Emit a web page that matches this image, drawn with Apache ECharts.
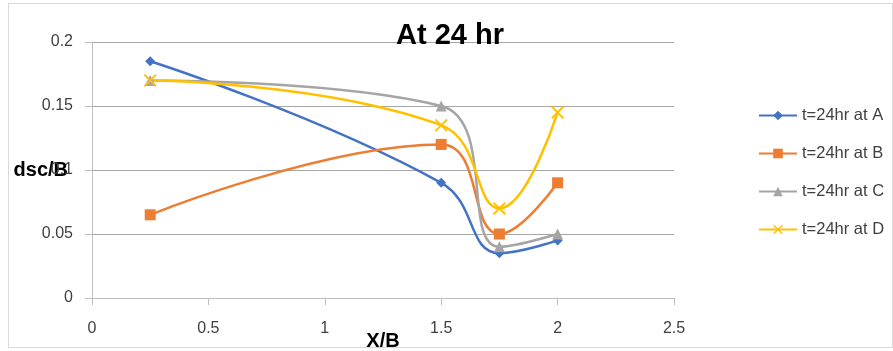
<!DOCTYPE html>
<html>
<head>
<meta charset="utf-8">
<script src="https://cdn.jsdelivr.net/npm/echarts@6/dist/echarts.min.js"></script>
<style>
  html, body { margin: 0; padding: 0; background: #fff; }
  #chart { width: 893px; height: 351px; }
</style>
</head>
<body>
<div id="chart"></div>
<script>
// X/B positions and dsc/B values
const xPos = [0.25, 1.5, 1.75, 2];
const seriesA = [0.185, 0.09, 0.035, 0.045];
const seriesB = [0.065, 0.12, 0.05, 0.09];
const seriesC = [0.17, 0.15, 0.04, 0.05];
const seriesD = [0.17, 0.135, 0.07, 0.145];
const names = ['t=24hr at A', 't=24hr at B', 't=24hr at C', 't=24hr at D'];
const colors = ['#4472c4', '#ed7d31', '#a5a5a5', '#ffc000'];

const crossPath = 'path://M0,1L1,0L5,4L9,0L10,1L6,5L10,9L9,10L5,6L1,10L0,9L4,5Z';
const symbols = ['diamond', 'rect', 'triangle', crossPath];
const sizes = [10, 11, 11, 13];

const font = "'Liberation Sans', sans-serif";

const chart = echarts.init(document.getElementById('chart'));

const series = [seriesA, seriesB, seriesC, seriesD].map((vals, i) => ({
  name: names[i],
  type: 'line',
  smooth: 0.45,
  data: xPos.map((x, k) => [x, vals[k]]),
  symbol: symbols[i],
  symbolSize: sizes[i],
  lineStyle: { width: 2.5, color: colors[i] },
  itemStyle: { color: colors[i] },
}));

chart.setOption({
  animation: false,
  title: {
    text: 'At 24 hr',
    left: 445,
    top: 16,
    textAlign: 'center',
    textStyle: { fontFamily: font, fontSize: 29, fontWeight: 'bold', color: '#000' },
  },
  legend: {
    orient: 'vertical',
    left: 753,
    top: 102,
    itemGap: 21,
    itemWidth: 38,
    itemHeight: 12,
    data: names,
    textStyle: { fontFamily: font, fontSize: 16.5, color: '#404040' },
  },
  grid: { left: 92, right: 219, top: 42, bottom: 53, outerBoundsMode: 'none' },
  xAxis: {
    type: 'value',
    min: 0, max: 2.5, interval: 0.5,
    name: 'X/B',
    nameLocation: 'middle',
    nameGap: 33,
    nameMoveOverlap: false,
    nameTextStyle: { fontFamily: font, fontSize: 20, fontWeight: 'bold', color: '#000' },
    axisLine: { lineStyle: { color: '#bfbfbf', width: 1 } },
    axisTick: { show: true, length: 7, lineStyle: { color: '#bfbfbf' } },
    splitLine: { show: false },
    axisLabel: { fontFamily: font, fontSize: 16, color: '#404040', margin: 23 },
  },
  yAxis: {
    type: 'value',
    min: 0, max: 0.2, interval: 0.05,
    name: 'dsc/B',
    nameLocation: 'middle',
    nameRotate: 0,
    nameGap: 24,
    nameMoveOverlap: false,
    nameTextStyle: { fontFamily: font, fontSize: 20, fontWeight: 'bold', color: '#000' },
    axisLine: { show: true, lineStyle: { color: '#bfbfbf', width: 1 } },
    axisTick: { show: true, length: 7, lineStyle: { color: '#bfbfbf' } },
    splitLine: { lineStyle: { color: '#a6a6a6', width: 1 } },
    axisLabel: { fontFamily: font, fontSize: 16, color: '#404040', margin: 19 },
  },
  graphic: [{
    type: 'rect',
    shape: { x: 8.5, y: 3.5, width: 884, height: 344 },
    style: { fill: 'none', stroke: '#d9d9d9', lineWidth: 1 },
    silent: true,
  }],
  series,
});
</script>
</body>
</html>
